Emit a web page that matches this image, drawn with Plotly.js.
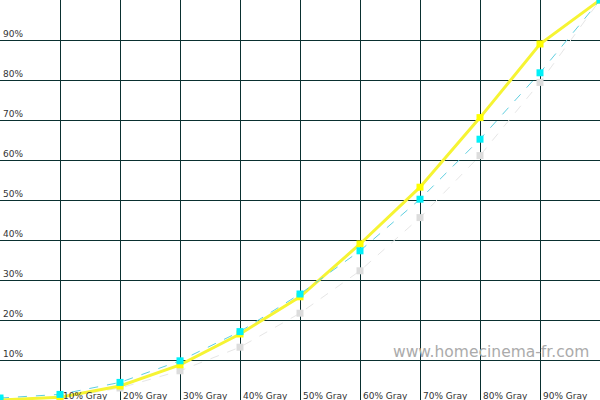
<!DOCTYPE html>
<html>
<head>
<meta charset="utf-8">
<script src="https://cdn.plot.ly/plotly-3.0.1.min.js"></script>
<style>
html,body{margin:0;padding:0;background:#fff;}
#chart{width:600px;height:400px;}
</style>
</head>
<body>
<div id="chart"></div>
<script>
// Input gray level (%)
var levels = [0, 10, 20, 30, 40, 50, 60, 70, 80, 90, 100];
// Measured luminance (%) per series
var yellowSeries = [0, 0.7, 3.5, 8.8, 16.5, 25.8, 39.0, 53.2, 70.6, 89.0, 100];
var cyanSeries   = [0.5, 1.4, 4.4, 9.8, 17.1, 26.5, 37.3, 50.2, 65.2, 81.8, 100];
var graySeries   = [0, 0.5, 3.0, 7.3, 13.2, 21.7, 32.3, 45.6, 61.1, 79.4, 100];
// Tick labels
var yTickVals = [10, 20, 30, 40, 50, 60, 70, 80, 90];
var yTickText = ['10%', '20%', '30%', '40%', '50%', '60%', '70%', '80%', '90%'];
var xTickVals = [10, 20, 30, 40, 50, 60, 70, 80, 90];
var xTickText = ['10% Gray', '20% Gray', '30% Gray', '40% Gray', '50% Gray', '60% Gray', '70% Gray', '80% Gray', '90% Gray'];
var watermark = 'www.homecinema-fr.com';

var traces = [
  {x: levels, y: graySeries, mode: 'lines+markers', type: 'scatter',
   line: {color: '#e6e6e6', width: 1, dash: 'dash'},
   marker: {symbol: 'square', size: 7, color: '#dcdcdc'}, hoverinfo: 'skip'},
  {x: levels, y: yellowSeries, mode: 'lines+markers', type: 'scatter',
   line: {color: '#f6f433', width: 3},
   marker: {symbol: 'square', size: 7, color: '#ffff00'}, hoverinfo: 'skip'},
  {x: levels, y: cyanSeries, mode: 'lines+markers', type: 'scatter',
   line: {color: '#5fcfe0', width: 1, dash: 'dash'},
   marker: {symbol: 'square', size: 7, color: '#00f0f8'}, hoverinfo: 'skip'}
];

var annotations = [];
yTickVals.forEach(function (v, i) {
  annotations.push({x: 0, y: v, xref: 'x', yref: 'y', text: yTickText[i],
    showarrow: false, xanchor: 'left', yanchor: 'bottom', xshift: 1, yshift: -1,
    font: {family: 'DejaVu Sans', size: 9, color: '#333'}});
});
xTickVals.forEach(function (v, i) {
  annotations.push({x: v, y: 0, xref: 'x', yref: 'y', text: xTickText[i],
    showarrow: false, xanchor: 'left', yanchor: 'bottom', xshift: 1, yshift: -3,
    font: {family: 'DejaVu Sans', size: 9, color: '#333'}});
});
annotations.push({x: 0.985, y: 0.12, xref: 'paper', yref: 'paper', text: watermark,
  showarrow: false, xanchor: 'right', yanchor: 'middle',
  font: {family: 'DejaVu Sans', size: 15.5, color: '#ababab'}});

var layout = {
  width: 600, height: 400,
  margin: {l: 0, r: 0, t: 0, b: 0, pad: 0},
  paper_bgcolor: '#ffffff', plot_bgcolor: '#ffffff',
  showlegend: false,
  xaxis: {range: [0, 100], tickvals: [0].concat(xTickVals).concat([100]), showticklabels: false,
    showgrid: true, gridcolor: '#0a3030', gridwidth: 1, zeroline: false, showline: false, fixedrange: true},
  yaxis: {range: [0, 100], tickvals: yTickVals, showticklabels: false,
    showgrid: true, gridcolor: '#0a3030', gridwidth: 1, zeroline: false, showline: false, fixedrange: true},
  annotations: annotations
};

Plotly.newPlot('chart', traces, layout, {staticPlot: true, displayModeBar: false});
</script>
</body>
</html>
